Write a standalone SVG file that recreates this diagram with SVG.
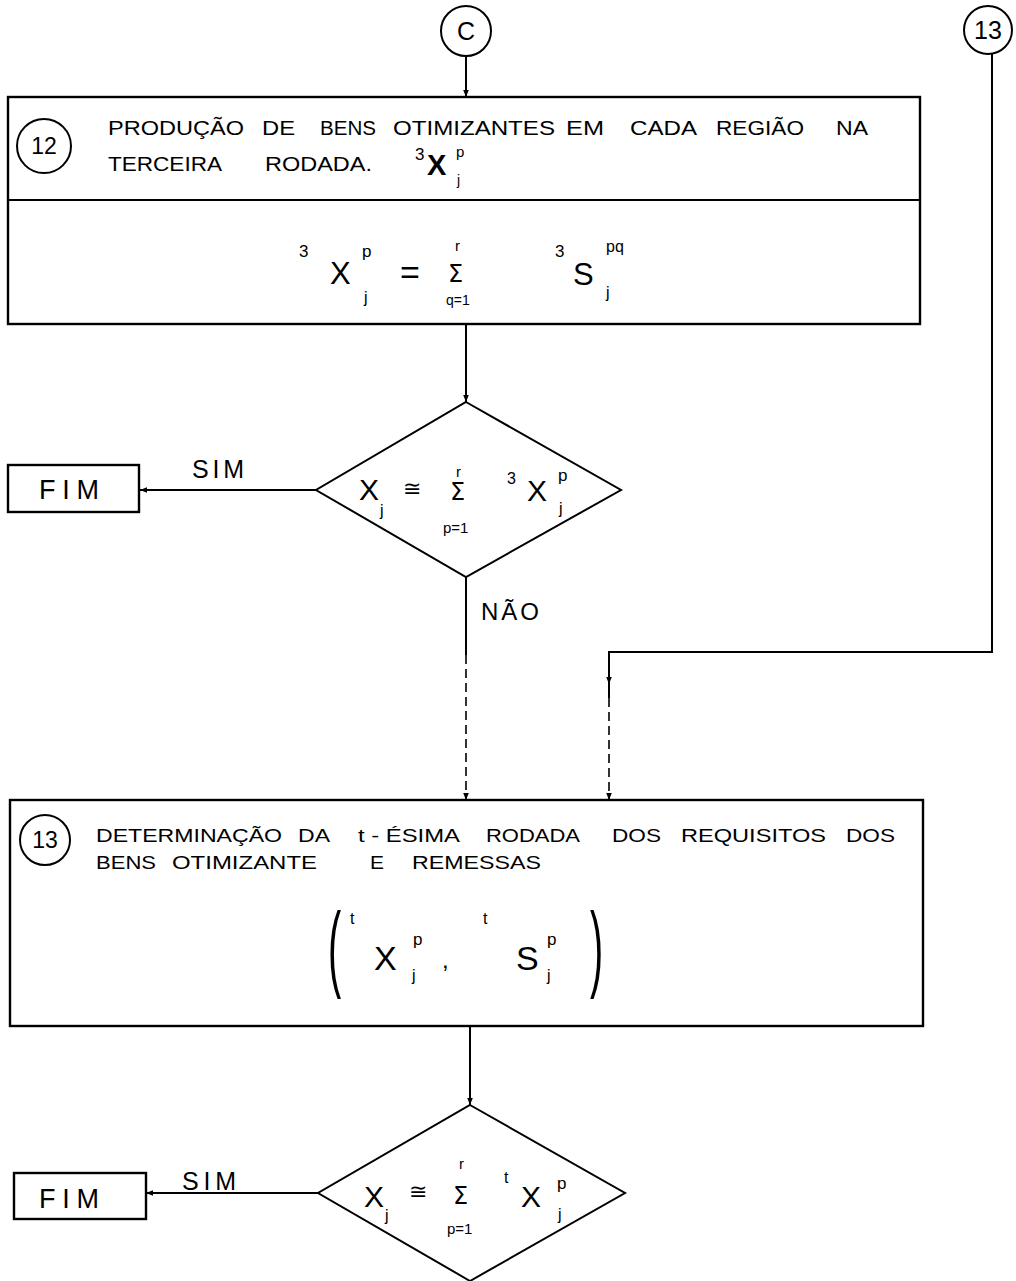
<svg xmlns="http://www.w3.org/2000/svg" width="1016" height="1281" viewBox="0 0 1016 1281">
<style>
  .ln{fill:none;stroke:#000;stroke-width:2}
  .dash{fill:none;stroke:#000;stroke-width:1.6;stroke-dasharray:9 5}
  .box{fill:#fff;stroke:#000;stroke-width:2.4}
  .t{font-family:"Liberation Sans",Arial,sans-serif;fill:#000}
  .w{font-size:20px}
  .m{font-family:"Liberation Sans",Arial,sans-serif;fill:#000}
  .s{font-family:"DejaVu Sans","Liberation Sans",sans-serif;fill:#000}
  .par{font-family:"Liberation Sans",Arial,sans-serif;fill:#000;font-size:94px}
</style>
<defs>
  <marker id="ah" viewBox="0 0 10 10" refX="10" refY="5" markerWidth="7" markerHeight="7" orient="auto" markerUnits="userSpaceOnUse">
    <path d="M0,1 L10,5 L0,9 Z" fill="#000"/>
  </marker>
</defs>
<rect width="1016" height="1281" fill="#fff"/>

<g id="connectors">
  <line class="ln" x1="466" y1="56" x2="466" y2="97" marker-end="url(#ah)"/>
  <line class="ln" x1="466" y1="324" x2="466" y2="402" marker-end="url(#ah)"/>
  <line class="ln" x1="316" y1="490" x2="140" y2="490" marker-end="url(#ah)"/>
  <line class="ln" x1="466" y1="577" x2="466" y2="655"/>
  <line class="dash" x1="466" y1="655" x2="466" y2="800" marker-end="url(#ah)"/>
  <polyline class="ln" points="992,54 992,652 609,652 609,684" marker-end="url(#ah)"/>
  <line class="ln" x1="609" y1="684" x2="609" y2="698"/>
  <line class="dash" x1="609" y1="698" x2="609" y2="800" marker-end="url(#ah)"/>
  <line class="ln" x1="470" y1="1026" x2="470" y2="1105" marker-end="url(#ah)"/>
  <line class="ln" x1="318" y1="1193" x2="146" y2="1193" marker-end="url(#ah)"/>
  <text class="t" x="192" y="478" font-size="25" textLength="52" lengthAdjust="spacing">SIM</text>
  <text class="t" x="481" y="620" font-size="24" textLength="58" lengthAdjust="spacing">NÃO</text>
  <text class="t" x="182" y="1190" font-size="25" textLength="54" lengthAdjust="spacing">SIM</text>
</g>

<g id="connector-C">
  <circle cx="466" cy="31" r="25" fill="#fff" stroke="#000" stroke-width="2"/>
  <text class="t" x="466" y="40" font-size="25" text-anchor="middle">C</text>
</g>

<g id="connector-13">
  <circle cx="988" cy="30" r="24" fill="#fff" stroke="#000" stroke-width="2"/>
  <text class="t" x="988" y="39" font-size="25" text-anchor="middle">13</text>
</g>

<g id="node-12">
  <rect class="box" x="8" y="97" width="912" height="227"/>
  <line class="ln" x1="8" y1="200" x2="920" y2="200" stroke-width="2.4"/>
  <circle cx="44" cy="146" r="27" fill="#fff" stroke="#000" stroke-width="2"/>
  <text class="t" x="44" y="154" font-size="23" text-anchor="middle">12</text>
  <g class="t w">
    <text x="108" y="135" textLength="136" lengthAdjust="spacingAndGlyphs">PRODUÇÃO</text>
    <text x="262" y="135" textLength="33" lengthAdjust="spacingAndGlyphs">DE</text>
    <text x="320" y="135" textLength="56" lengthAdjust="spacingAndGlyphs">BENS</text>
    <text x="393" y="135" textLength="162" lengthAdjust="spacingAndGlyphs">OTIMIZANTES</text>
    <text x="566" y="135" textLength="38" lengthAdjust="spacingAndGlyphs">EM</text>
    <text x="630" y="135" textLength="67" lengthAdjust="spacingAndGlyphs">CADA</text>
    <text x="716" y="135" textLength="88" lengthAdjust="spacingAndGlyphs">REGIÃO</text>
    <text x="836" y="135" textLength="32" lengthAdjust="spacingAndGlyphs">NA</text>
    <text x="108" y="171" textLength="114" lengthAdjust="spacingAndGlyphs">TERCEIRA</text>
    <text x="265" y="171" textLength="107" lengthAdjust="spacingAndGlyphs">RODADA.</text>
  </g>
  <text class="m" x="415" y="160" font-size="17">3</text>
  <text class="m" x="427" y="175" font-size="29" font-weight="bold">X</text>
  <text class="m" x="456" y="157" font-size="15">p</text>
  <text class="m" x="457" y="185" font-size="14">j</text>
  <text class="m" x="299" y="257" font-size="17">3</text>
  <text class="m" x="330" y="284" font-size="31">X</text>
  <text class="m" x="362" y="257" font-size="17">p</text>
  <text class="m" x="364" y="303" font-size="16">j</text>
  <text class="m" x="400" y="284" font-size="34">=</text>
  <text class="s" x="448" y="282" font-size="24">Σ</text>
  <text class="m" x="455" y="251" font-size="15">r</text>
  <text class="m" x="446" y="305" font-size="14">q=1</text>
  <text class="m" x="555" y="257" font-size="17">3</text>
  <text class="m" x="573" y="285" font-size="31">S</text>
  <text class="m" x="606" y="252" font-size="16">pq</text>
  <text class="m" x="606" y="298" font-size="16">j</text>
</g>

<g id="decision-1">
  <polygon points="466,402 621,490 466,577 316,490" fill="#fff" stroke="#000" stroke-width="2"/>
  <text class="m" x="359" y="500" font-size="30">X</text>
  <text class="m" x="380" y="516" font-size="16">j</text>
  <text class="s" x="403" y="496" font-size="22">≅</text>
  <text class="s" x="450" y="500" font-size="24">Σ</text>
  <text class="m" x="456" y="477" font-size="15">r</text>
  <text class="m" x="443" y="533" font-size="15">p=1</text>
  <text class="m" x="507" y="484" font-size="16">3</text>
  <text class="m" x="527" y="501" font-size="30">X</text>
  <text class="m" x="558" y="481" font-size="17">p</text>
  <text class="m" x="559" y="514" font-size="16">j</text>
</g>

<g id="end-1">
  <rect class="box" x="8" y="465" width="131" height="47"/>
  <text class="t" x="39" y="499" font-size="27" textLength="60" lengthAdjust="spacing">FIM</text>
</g>

<g id="node-13">
  <rect class="box" x="10" y="800" width="913" height="226"/>
  <circle cx="45" cy="840" r="25" fill="#fff" stroke="#000" stroke-width="2"/>
  <text class="t" x="45" y="848" font-size="23" text-anchor="middle">13</text>
  <g class="t" font-size="18.5">
    <text x="96" y="842" textLength="186" lengthAdjust="spacingAndGlyphs">DETERMINAÇÃO</text>
    <text x="298" y="842" textLength="32" lengthAdjust="spacingAndGlyphs">DA</text>
    <text x="358" y="842" textLength="102" lengthAdjust="spacingAndGlyphs">t - ÉSIMA</text>
    <text x="486" y="842" textLength="94" lengthAdjust="spacingAndGlyphs">RODADA</text>
    <text x="612" y="842" textLength="49" lengthAdjust="spacingAndGlyphs">DOS</text>
    <text x="681" y="842" textLength="145" lengthAdjust="spacingAndGlyphs">REQUISITOS</text>
    <text x="846" y="842" textLength="49" lengthAdjust="spacingAndGlyphs">DOS</text>
    <text x="96" y="869" textLength="60" lengthAdjust="spacingAndGlyphs">BENS</text>
    <text x="172" y="869" textLength="145" lengthAdjust="spacingAndGlyphs">OTIMIZANTE</text>
    <text x="370" y="869" textLength="14" lengthAdjust="spacingAndGlyphs">E</text>
    <text x="412" y="869" textLength="129" lengthAdjust="spacingAndGlyphs">REMESSAS</text>
  </g>
  <text class="par" x="328" y="979" transform="translate(328 0) scale(0.42 1) translate(-328 0)">(</text>
  <text class="par" x="590" y="979" transform="translate(590 0) scale(0.42 1) translate(-590 0)">)</text>
  <text class="m" x="350" y="924" font-size="16">t</text>
  <text class="m" x="374" y="970" font-size="34">X</text>
  <text class="m" x="413" y="945" font-size="17">p</text>
  <text class="m" x="412" y="981" font-size="16">j</text>
  <text class="m" x="442" y="968" font-size="24">,</text>
  <text class="m" x="483" y="924" font-size="16">t</text>
  <text class="m" x="516" y="970" font-size="34">S</text>
  <text class="m" x="547" y="945" font-size="17">p</text>
  <text class="m" x="547" y="981" font-size="16">j</text>
</g>

<g id="decision-2">
  <polygon points="470,1105 625,1193 470,1281 318,1193" fill="#fff" stroke="#000" stroke-width="2"/>
  <text class="m" x="364" y="1207" font-size="30">X</text>
  <text class="m" x="385" y="1221" font-size="16">j</text>
  <text class="s" x="409" y="1199" font-size="22">≅</text>
  <text class="s" x="453" y="1204" font-size="24">Σ</text>
  <text class="m" x="459" y="1169" font-size="15">r</text>
  <text class="m" x="447" y="1234" font-size="15">p=1</text>
  <text class="m" x="504" y="1183" font-size="16">t</text>
  <text class="m" x="521" y="1207" font-size="30">X</text>
  <text class="m" x="557" y="1189" font-size="17">p</text>
  <text class="m" x="558" y="1220" font-size="16">j</text>
</g>

<g id="end-2">
  <rect class="box" x="14" y="1173" width="132" height="46"/>
  <text class="t" x="39" y="1208" font-size="27" textLength="60" lengthAdjust="spacing">FIM</text>
</g>
</svg>
